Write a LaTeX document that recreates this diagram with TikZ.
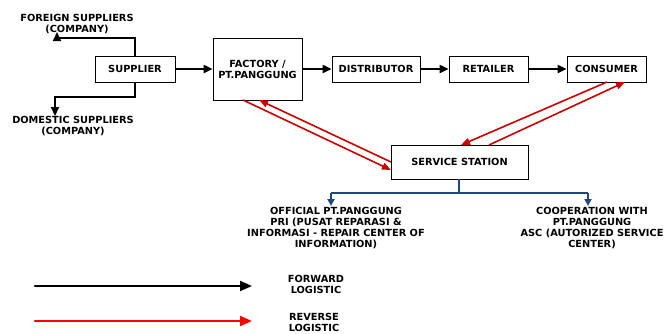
\documentclass[tikz,border=0pt]{standalone}
\usepackage{fontspec}
\setmainfont{DejaVu Sans}
\usetikzlibrary{arrows.meta}
\definecolor{rlred}{RGB}{200,0,0}
\definecolor{legred}{RGB}{255,0,0}
\definecolor{dblue}{RGB}{31,73,125}
\begin{document}
\begin{tikzpicture}[x=1pt,y=-1pt,
  box/.style={draw=black,line width=0.8pt,fill=white,inner sep=0pt,font=\bfseries\fontsize{9.8}{11}\selectfont,align=center},
  lbl/.style={inner sep=0pt,font=\bfseries\fontsize{9.8}{11}\selectfont,align=center},
  fwd/.style={line width=2pt,-{Triangle[length=9pt,width=8pt]}},
  rev/.style={draw=rlred,line width=1.6pt,-{Triangle[length=9pt,width=7pt]}},
  blu/.style={draw=dblue,line width=2pt},
  bluarr/.style={draw=dblue,line width=2pt,-{Triangle[length=7pt,width=7pt]}}]
\useasboundingbox (0,0) rectangle (672,333);
% boxes
\node[box,minimum width=80pt,minimum height=26pt] (sup) at (135,69) {SUPPLIER};
\node[box,minimum width=89pt,minimum height=62pt] (fac) at (257.5,69) {FACTORY /\\PT.PANGGUNG};
\node[box,minimum width=88pt,minimum height=26pt] (dis) at (376,69) {DISTRIBUTOR};
\node[box,minimum width=79pt,minimum height=26pt] (ret) at (488.5,69) {RETAILER};
\node[box,minimum width=79pt,minimum height=26pt] (con) at (606.5,69) {CONSUMER};
\node[box,minimum width=137pt,minimum height=34pt] (ser) at (459.5,162) {SERVICE STATION};
% supplier labels
\node[lbl] (fsup) at (77,24) {FOREIGN SUPPLIERS\\(COMPANY)};
\node[lbl] (dsup) at (73,126) {DOMESTIC SUPPLIERS\\(COMPANY)};
\coordinate (f1) at (135,38);
\coordinate (f2) at (57,38);
\coordinate (d1) at (135,97);
\coordinate (d2) at (55,97);
\draw[fwd] (sup.north) -- (f1) -- (f2) -- (57,32);
\draw[fwd] (sup.south) -- (d1) -- (d2) -- (dsup.north -| d2);
% forward chain
\draw[fwd] (sup) -- (fac);
\draw[fwd] (fac.east |- dis) -- (dis);
\draw[fwd] (dis) -- (ret);
\draw[fwd] (ret) -- (con);
% reverse
\coordinate (fa1) at (243,100);
\coordinate (fa2) at (259,100);
\coordinate (sa1) at (391,170);
\coordinate (sa2) at (391,162);
\draw[rev] (fa1) -- (sa1);
\draw[rev] (sa2) -- (fa2);
\coordinate (ca1) at (607,82);
\coordinate (ca2) at (625,82);
\coordinate (st1) at (461,145);
\coordinate (st2) at (489,145);
\draw[rev] (ca1) -- (st1);
\draw[rev] (st2) -- (ca2);
% blue branch
\node[lbl] (off) at (336,228) {OFFICIAL PT.PANGGUNG\\PRI (PUSAT REPARASI \&\\INFORMASI - REPAIR CENTER OF\\INFORMATION)};
\node[lbl] (coop) at (592,228) {COOPERATION WITH\\PT.PANGGUNG\\ASC (AUTORIZED SERVICE\\CENTER)};
\coordinate (b0) at (459,193);
\coordinate (bl) at (331,193);
\coordinate (br) at (588,193);
\draw[blu] (ser.south -| b0) -- (b0);
\draw[blu] (bl) -- (br);
\draw[bluarr] (bl) -- (331,206);
\draw[bluarr] (br) -- (588,206);
% legend
\coordinate (l1a) at (35,286);
\coordinate (l1b) at (252,286);
\coordinate (l2a) at (35,321);
\coordinate (l2b) at (252,321);
\draw[line width=2.2pt,line cap=round,-{Triangle[length=12pt,width=10pt]}] (l1a) -- (l1b);
\draw[legred,line width=2.2pt,line cap=round,-{Triangle[length=12pt,width=10pt]}] (l2a) -- (l2b);
\node[lbl] (lf) at (316,284) {FORWARD\\LOGISTIC};
\node[lbl,anchor=north] (lr) at (314,313) {REVERSE\\LOGISTIC};
\end{tikzpicture}
\end{document}
